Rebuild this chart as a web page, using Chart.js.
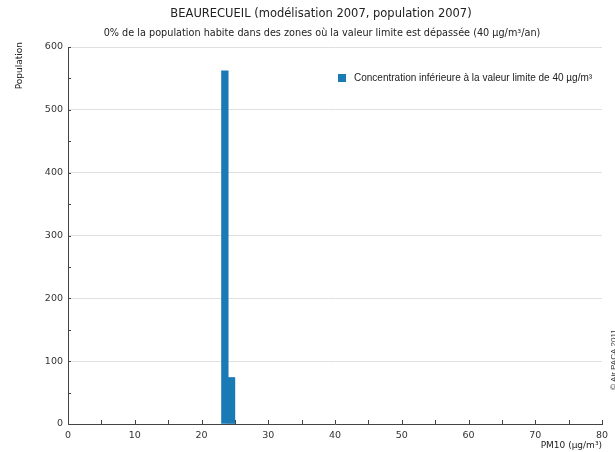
<!DOCTYPE html>
<html>
<head>
<meta charset="utf-8">
<script src="https://cdn.jsdelivr.net/npm/chart.js@4/dist/chart.umd.min.js"></script>
<style>
  html, body { margin: 0; padding: 0; background: #fff; }
  #wrap { width: 615px; height: 452px; }
</style>
</head>
<body>
<div id="wrap"><canvas id="c" width="615" height="452"></canvas></div>
<script>
// Histogram of the population by annual PM10 concentration (1 µg/m³ bins)
const binCenters = [23.5, 24.5];
const population = [562, 74];
const xTicks = [0, 10, 20, 30, 40, 50, 60, 70, 80];
const yTicks = [0, 100, 200, 300, 400, 500, 600];

const titleText = 'BEAURECUEIL (modélisation 2007, population 2007)';
const subtitleText = '0% de la population habite dans des zones où la valeur limite est dépassée (40 µg/m³/an)';
const seriesLabel = 'Concentration inférieure à la valeur limite de 40 µg/m³';
const xTitle = 'PM10 (µg/m³)';
const yTitle = 'Population';
const credit = '© Air PACA 2011';

const BAR = '#1a7ab5';
const AXIS = '#444';
const FONT = '"DejaVu Sans", sans-serif';

const decor = {
  id: 'decor',
  afterDraw(chart) {
    const ctx = chart.ctx;
    const a = chart.chartArea;
    const xs = chart.scales.x, ys = chart.scales.y;
    ctx.save();
    // inward minor/major tick marks
    ctx.strokeStyle = AXIS;
    ctx.lineWidth = 1;
    ctx.beginPath();
    for (let v = 0; v <= 80; v += 5) {
      const px = Math.round(xs.getPixelForValue(v)) + 0.5;
      ctx.moveTo(px, a.bottom);
      ctx.lineTo(px, a.bottom - 4);
    }
    for (let v = 0; v <= 600; v += 50) {
      const py = Math.round(ys.getPixelForValue(v)) + 0.5;
      ctx.moveTo(a.left, py);
      ctx.lineTo(a.left + 3, py);
    }
    ctx.stroke();

    // titles
    ctx.fillStyle = '#222';
    ctx.textAlign = 'center';
    ctx.textBaseline = 'middle';
    ctx.font = '11.5px ' + FONT;
    ctx.fillText(titleText, 321, 14);
    ctx.font = '9.7px ' + FONT;
    ctx.fillText(subtitleText, 322, 33);

    // axis titles
    ctx.font = '9px ' + FONT;
    ctx.textAlign = 'right';
    ctx.fillText(xTitle, a.right, 446);
    ctx.save();
    ctx.translate(20, a.top - 5);
    ctx.rotate(-Math.PI / 2);
    ctx.textAlign = 'right';
    ctx.fillText(yTitle, 0, 0);
    ctx.restore();

    // legend
    ctx.fillStyle = BAR;
    ctx.fillRect(338, 74, 8, 8);
    ctx.fillStyle = '#222';
    ctx.textAlign = 'left';
    ctx.font = '10px "Liberation Sans", Arial, sans-serif';
    ctx.fillText(seriesLabel, 354, 78);

    // credit on the right edge
    ctx.save();
    ctx.translate(614, 390);
    ctx.rotate(-Math.PI / 2);
    ctx.font = '8px "Liberation Sans", Arial, sans-serif';
    ctx.fillStyle = '#333';
    ctx.textAlign = 'left';
    ctx.fillText(credit, 0, 0);
    ctx.restore();
    ctx.restore();
  }
};

new Chart(document.getElementById('c'), {
  type: 'bar',
  data: {
    datasets: [{
      label: seriesLabel,
      data: binCenters.map((x, i) => ({ x, y: population[i] })),
      backgroundColor: BAR,
      borderWidth: 0,
      barPercentage: 1,
      categoryPercentage: 1
    }]
  },
  options: {
    responsive: false,
    animation: false,
    devicePixelRatio: 1,
    layout: { padding: { top: 47, right: 13, left: 0, bottom: 0 } },
    plugins: {
      legend: { display: false },
      title: { display: false },
      tooltip: { enabled: false }
    },
    scales: {
      x: {
        type: 'linear',
        offset: false,
        min: 0, max: 80,
        afterBuildTicks(s) { s.ticks = xTicks.map(v => ({ value: v })); },
        afterFit(s) { s.height = 28; },
        grid: { display: false, drawTicks: false, offset: false },
        border: { color: AXIS, width: 1 },
        ticks: { color: '#333', font: { family: FONT, size: 9.5 }, padding: 6, maxRotation: 0 }
      },
      y: {
        min: 0, max: 600,
        afterBuildTicks(s) { s.ticks = yTicks.map(v => ({ value: v })); },
        afterFit(s) { s.width = 68; },
        grid: { color: '#e0e0e0', drawTicks: false },
        border: { color: AXIS, width: 1 },
        ticks: { color: '#333', font: { family: FONT, size: 9.5 }, padding: 5 }
      }
    }
  },
  plugins: [decor]
});
</script>
</body>
</html>
